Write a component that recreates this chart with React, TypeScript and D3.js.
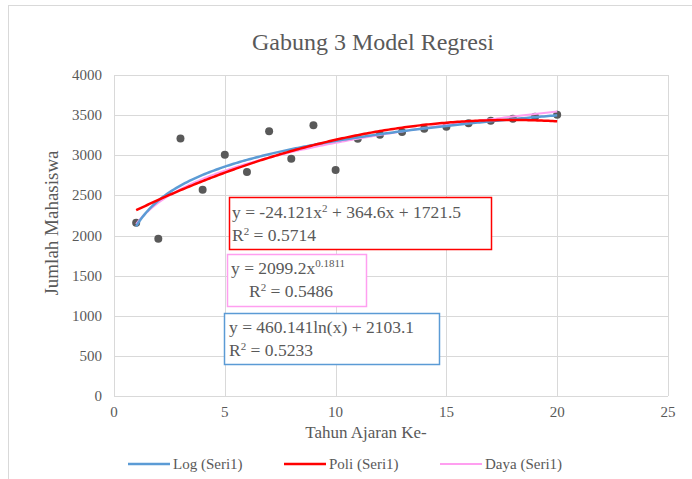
import { useEffect, useRef } from "react";
import * as d3 from "d3";

// data
const tahun = [1, 2, 3, 4, 5, 6, 7, 8, 9, 10, 11, 12, 13, 14, 15, 16, 17, 18, 19, 20];
const mahasiswa = [2160, 1960, 3210, 2570, 3005, 2790, 3300, 2955, 3375, 2815,
  3205, 3255, 3290, 3330, 3355, 3400, 3430, 3455, 3480, 3505];

const xTicks = [0, 5, 10, 15, 20, 25];
const yTicks = [0, 500, 1000, 1500, 2000, 2500, 3000, 3500, 4000];

const legendLabels = ["Log (Seri1)", "Poli (Seri1)", "Daya (Seri1)"];
const legendColors = ["#5b9bd5", "#ff0000", "#ff9ff0"];

const eqLog = ["y = 460.141ln(x) + 2103.1", "R", "2", " = 0.5233"];
const eqPoli = ["y = -24.121x", "2", " + 364.6x + 1721.5", "R", "2", " = 0.5714"];
const eqDaya = ["y = 2099.2x", "0.1811", "R", "2", " = 0.5486"];

const FONT = "'Liberation Serif', 'Times New Roman', serif";
const GRAY = "#595959";

// least squares helpers
function linFit(xs: number[], ys: number[]) {
  const mx = d3.mean(xs)!, my = d3.mean(ys)!;
  let sxy = 0, sxx = 0;
  xs.forEach((x, i) => { sxy += (x - mx) * (ys[i] - my); sxx += (x - mx) ** 2; });
  const slope = sxy / sxx;
  return { slope, intercept: my - slope * mx };
}

function quadFit(xs: number[], ys: number[]) {
  const S = (p: number) => d3.sum(xs, (x) => x ** p);
  const T = (p: number) => d3.sum(xs.map((x, i) => ys[i] * x ** p));
  const A = [[S(4), S(3), S(2), T(2)], [S(3), S(2), S(1), T(1)], [S(2), S(1), xs.length, T(0)]];
  for (let i = 0; i < 3; i++) {
    for (let j = i + 1; j < 3; j++) {
      const f = A[j][i] / A[i][i];
      for (let k = i; k < 4; k++) A[j][k] -= f * A[i][k];
    }
  }
  const r = [0, 0, 0];
  for (let i = 2; i >= 0; i--) {
    let s = A[i][3];
    for (let k = i + 1; k < 3; k++) s -= A[i][k] * r[k];
    r[i] = s / A[i][i];
  }
  return r;
}

function App() {
  const ref = useRef<SVGSVGElement>(null);

  useEffect(() => {
    draw();
    // eslint-disable-next-line
  }, []);

  function draw() {
    const svg = d3.select(ref.current);
    svg.selectAll("*").remove();

    // chart area frame (cut off at right and bottom)
    svg.append("rect")
      .attr("x", 8.5).attr("y", 5.5).attr("width", 720).attr("height", 520)
      .attr("fill", "white").attr("stroke", "#d9d9d9");

    const x = d3.scaleLinear().domain([0, 25]).range([114, 668]);
    const y = d3.scaleLinear().domain([0, 4000]).range([396, 75]);

    // grid
    svg.append("g").selectAll("line").data(yTicks).enter().append("line")
      .attr("x1", x(0)).attr("x2", x(25))
      .attr("y1", (d) => Math.round(y(d)) + 0.5).attr("y2", (d) => Math.round(y(d)) + 0.5)
      .attr("stroke", "#d9d9d9");
    svg.append("g").selectAll("line").data(xTicks).enter().append("line")
      .attr("y1", y(0)).attr("y2", y(4000))
      .attr("x1", (d) => Math.round(x(d)) + 0.5).attr("x2", (d) => Math.round(x(d)) + 0.5)
      .attr("stroke", "#d9d9d9");

    // tick labels
    svg.append("g").selectAll("text").data(yTicks).enter().append("text")
      .attr("x", 102).attr("y", (d) => y(d) + 5)
      .attr("text-anchor", "end").attr("font-size", 15).attr("font-family", FONT)
      .attr("fill", GRAY).text((d) => d);
    svg.append("g").selectAll("text").data(xTicks).enter().append("text")
      .attr("x", (d) => x(d)).attr("y", 417)
      .attr("text-anchor", "middle").attr("font-size", 15).attr("font-family", FONT)
      .attr("fill", GRAY).text((d) => d);

    // title + axis titles
    svg.append("text").attr("x", 373).attr("y", 50).attr("text-anchor", "middle")
      .attr("font-size", 24).attr("font-family", FONT).attr("fill", GRAY)
      .text("Gabung 3 Model Regresi");
    svg.append("text").attr("x", 366).attr("y", 438).attr("text-anchor", "middle")
      .attr("font-size", 17).attr("font-family", FONT).attr("fill", GRAY)
      .text("Tahun Ajaran Ke-");
    svg.append("text").attr("transform", "translate(58,223) rotate(-90)")
      .attr("text-anchor", "middle")
      .attr("font-size", 19).attr("font-family", FONT).attr("fill", GRAY)
      .text("Jumlah Mahasiswa");

    // points
    svg.append("g").selectAll("circle").data(tahun).enter().append("circle")
      .attr("cx", (d) => x(d)).attr("cy", (d, i) => y(mahasiswa[i]))
      .attr("r", 4).attr("fill", GRAY);

    // trendlines (least squares on the data)
    const lf = linFit(tahun.map(Math.log), mahasiswa);
    const pf = linFit(tahun.map(Math.log), mahasiswa.map(Math.log));
    const qf = quadFit(tahun, mahasiswa);
    const xs = d3.range(1, 20.001, 0.1);
    const line = d3.line<number[]>().x((d) => x(d[0])).y((d) => y(d[1]));
    const curves = [
      { f: (t: number) => Math.exp(pf.intercept) * t ** pf.slope, c: legendColors[2], w: 2 },
      { f: (t: number) => lf.slope * Math.log(t) + lf.intercept, c: legendColors[0], w: 2.5 },
      { f: (t: number) => qf[0] * t * t + qf[1] * t + qf[2], c: legendColors[1], w: 2.5 },
    ];
    curves.forEach((cv) => {
      svg.append("path")
        .attr("d", line(xs.map((t) => [t, cv.f(t)])))
        .attr("fill", "none").attr("stroke", cv.c).attr("stroke-width", cv.w);
    });

    // equation boxes
    const g = svg.append("g").attr("font-family", FONT).attr("font-size", 17.5);

    g.append("rect").attr("x", 229.5).attr("y", 197.5).attr("width", 262).attr("height", 52)
      .attr("fill", "white").attr("stroke", "red").attr("stroke-width", 1.5);
    const t1 = g.append("text").attr("x", 232).attr("y", 218).attr("fill", GRAY);
    t1.append("tspan").text(eqPoli[0]);
    t1.append("tspan").attr("dy", -6).attr("font-size", 11).text(eqPoli[1]);
    t1.append("tspan").attr("dy", 6).text(eqPoli[2]);
    const t2 = g.append("text").attr("x", 232).attr("y", 241).attr("fill", GRAY);
    t2.append("tspan").text(eqPoli[3]);
    t2.append("tspan").attr("dy", -6).attr("font-size", 11).text(eqPoli[4]);
    t2.append("tspan").attr("dy", 6).text(eqPoli[5]);

    g.append("rect").attr("x", 227.5).attr("y", 254.5).attr("width", 139).attr("height", 52)
      .attr("fill", "white").attr("stroke", "#ff9ff0").attr("stroke-width", 1.5);
    const t3 = g.append("text").attr("x", 231).attr("y", 274).attr("fill", GRAY);
    t3.append("tspan").text(eqDaya[0]);
    t3.append("tspan").attr("dy", -7).attr("font-size", 11).text(eqDaya[1]);
    const t4 = g.append("text").attr("x", 249).attr("y", 297).attr("fill", GRAY);
    t4.append("tspan").text(eqDaya[2]);
    t4.append("tspan").attr("dy", -6).attr("font-size", 11).text(eqDaya[3]);
    t4.append("tspan").attr("dy", 6).text(eqDaya[4]);

    g.append("rect").attr("x", 224.5).attr("y", 313.5).attr("width", 215).attr("height", 51)
      .attr("fill", "white").attr("stroke", "#5b9bd5").attr("stroke-width", 1.5);
    g.append("text").attr("x", 229).attr("y", 333).attr("fill", GRAY).text(eqLog[0]);
    const t5 = g.append("text").attr("x", 229).attr("y", 356).attr("fill", GRAY);
    t5.append("tspan").text(eqLog[1]);
    t5.append("tspan").attr("dy", -6).attr("font-size", 11).text(eqLog[2]);
    t5.append("tspan").attr("dy", 6).text(eqLog[3]);

    // legend
    const legX = [128, 284, 440];
    legendLabels.forEach((lab, i) => {
      svg.append("line").attr("x1", legX[i]).attr("x2", legX[i] + 42)
        .attr("y1", 464).attr("y2", 464)
        .attr("stroke", legendColors[i]).attr("stroke-width", i === 2 ? 2 : 2.5);
      svg.append("text").attr("x", legX[i] + 45).attr("y", 469)
        .attr("font-size", 15).attr("font-family", FONT).attr("fill", GRAY).text(lab);
    });
  }

  return (
    <svg ref={ref} width={692} height={479}
      style={{ position: "absolute", left: 0, top: 0, background: "white" }} />
  );
}

export default App;
